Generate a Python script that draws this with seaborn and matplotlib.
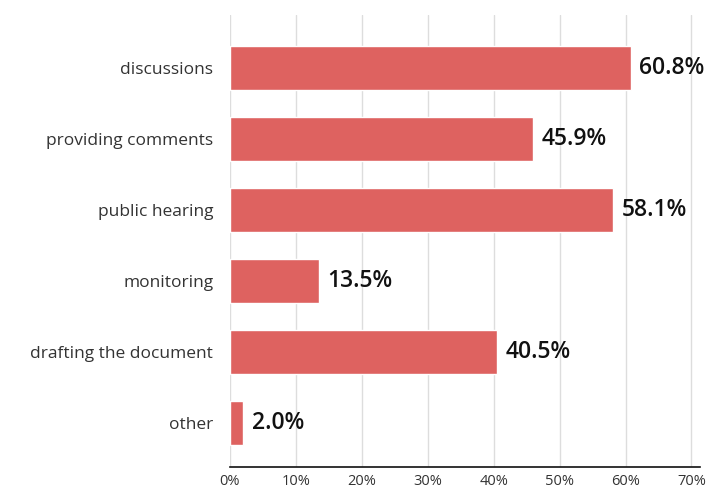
import matplotlib
matplotlib.use("Agg")
import matplotlib.pyplot as plt
import seaborn as sns
import pandas as pd

categories = ["discussions", "providing comments", "public hearing",
              "monitoring", "drafting the document", "other"]
shares = [60.8, 45.9, 58.1, 13.5, 40.5, 2.0]
tick_values = [0, 10, 20, 30, 40, 50, 60, 70]
tick_labels = ["0%", "10%", "20%", "30%", "40%", "50%", "60%", "70%"]

df = pd.DataFrame({"category": categories, "share": shares})

sns.set_theme(style="white")
plt.rcParams["font.family"] = ["Open Sans", "DejaVu Sans"]

fig = plt.figure(figsize=(7.18, 4.91), dpi=100)
ax = fig.add_axes([0.3203, 0.0489, 0.6547, 0.9206])

sns.barplot(data=df, x="share", y="category", orient="h", color="#de6260",
            saturation=1, width=0.62, ax=ax, zorder=3)

ax.set_xlim(0, 71.3)
ax.set_ylim(5.62, -0.746)
ax.set_xticks(tick_values)
ax.set_xticklabels(tick_labels, fontsize=10.5, color="#333333")
ax.tick_params(axis="x", length=0, pad=5)
ax.tick_params(axis="y", length=0, labelsize=12.5, labelcolor="#333333", pad=12)
ax.set_xlabel("")
ax.set_ylabel("")

ax.grid(axis="x", color="#dddddd", linewidth=1, zorder=0)
ax.set_axisbelow(True)
for side in ("top", "right", "left"):
    ax.spines[side].set_visible(False)
ax.spines["bottom"].set_color("#111111")
ax.spines["bottom"].set_linewidth(1.2)

for i, v in enumerate(shares):
    ax.text(v + 1.3, i, f"{v:.1f}%", va="center", ha="left",
            fontsize=16.5, fontweight="semibold", color="#111111", zorder=4)

fig.savefig("out.png", dpi=100)
